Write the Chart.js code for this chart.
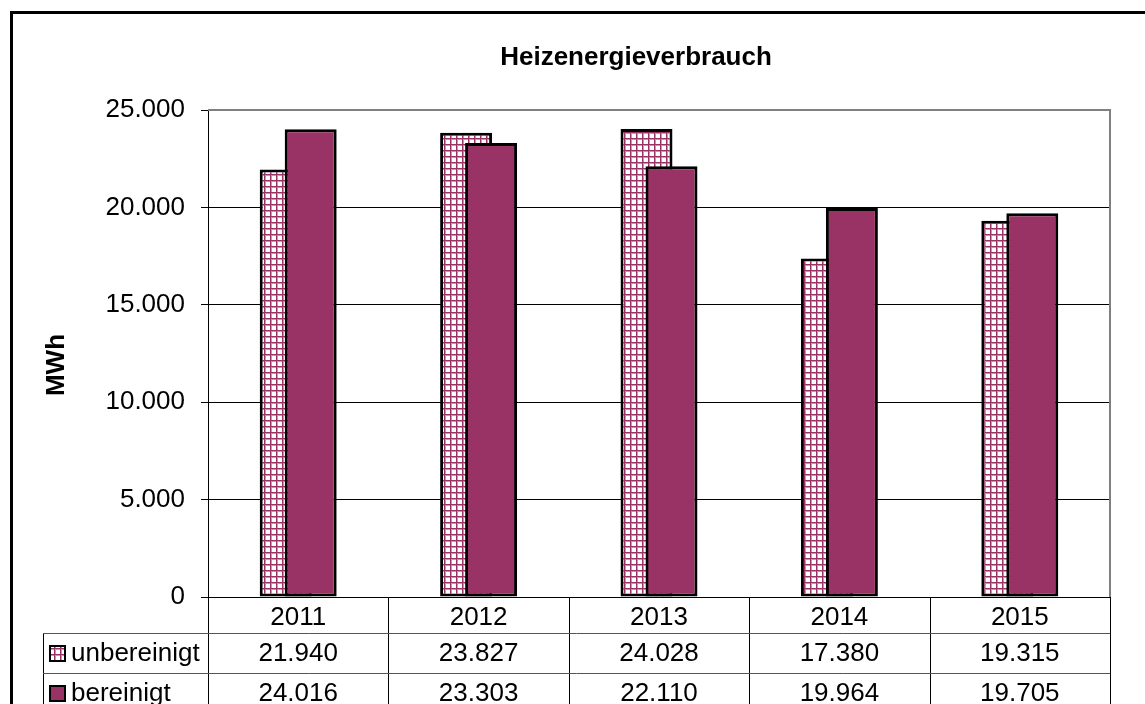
<!DOCTYPE html>
<html><head><meta charset="utf-8">
<script src="https://cdn.jsdelivr.net/npm/chart.js@4"></script>
<style>html,body{margin:0;padding:0;background:#fff;overflow:hidden}</style>
</head><body>
<canvas id="c" width="1145" height="704"></canvas>
<script>
const categories = ['2011', '2012', '2013', '2014', '2015'];
const seriesNames = ['unbereinigt', 'bereinigt'];
const unbereinigt = [21940, 23827, 24028, 17380, 19315];
const bereinigt = [24016, 23303, 22110, 19964, 19705];
const yTickLabels = ['0', '5.000', '10.000', '15.000', '20.000', '25.000'];
const chartTitle = 'Heizenergieverbrauch';
const yAxisTitle = 'MWh';

function fmt(v) { return String(v).replace(/\B(?=(\d{3})+(?!\d))/g, '.'); }

const FONT = "'Liberation Sans', Arial, Helvetica, sans-serif";
const MAROON = '#993366';
const canvas = document.getElementById('c');
const ctx = canvas.getContext('2d');

function makePattern() {
  const c = document.createElement('canvas');
  c.width = 6; c.height = 6;
  const g = c.getContext('2d');
  g.fillStyle = '#ffffff'; g.fillRect(0, 0, 6, 6);
  g.fillStyle = '#cf8fb0';
  g.fillRect(0, 1, 6, 1);
  g.fillRect(1, 0, 1, 6);
  g.fillStyle = '#993366';
  g.fillRect(0, 0, 6, 1);
  g.fillRect(0, 0, 1, 6);
  return ctx.createPattern(c, 'repeat');
}
const pattern = makePattern();
const seriesData = [unbereinigt, bereinigt];
const seriesFill = [pattern, MAROON];

const orderPlugin = {
  id: 'orderPlugin',
  beforeDatasetsDraw(chart) {
    const metas = chart.getSortedVisibleDatasetMetas();
    for (const m of metas) {
      if (typeof chart._drawDataset === 'function') chart._drawDataset(m);
      else m.controller.draw();
    }
    return false;
  }
};

const decorPlugin = {
  id: 'decor',
  beforeDraw(chart) {
    const c = chart.ctx;
    c.save(); c.fillStyle = '#fff'; c.fillRect(0, 0, chart.width, chart.height); c.restore();
  },
  afterDraw(chart) {
    const c = chart.ctx;
    const a = chart.chartArea;
    const xs = chart.scales.x;
    c.save();
    // plot border (top + right, gray)
    c.strokeStyle = '#808080'; c.lineWidth = 2;
    c.beginPath();
    c.moveTo(a.left, a.top); c.lineTo(a.right, a.top); c.lineTo(a.right, a.bottom);
    c.stroke();
    // title
    c.fillStyle = '#000';
    c.font = 'bold 26px ' + FONT;
    c.textAlign = 'center'; c.textBaseline = 'middle';
    c.fillText(chartTitle, 636, 58);
    // y axis title
    c.translate(57, 365); c.rotate(-Math.PI / 2);
    c.fillText(yAxisTitle, 0, 0);
    c.setTransform(1, 0, 0, 1, 0, 0);
    // data table
    const n = categories.length;
    const colW = (a.right - a.left) / n;
    const tableLeft = 43;
    const row1Top = a.bottom + 36;
    const rowH = 40;
    c.lineWidth = 1;
    c.strokeStyle = '#000';
    for (let k = 0; k <= n; k++) {
      const x = Math.round(a.left + k * colW) + 0.5;
      c.beginPath(); c.moveTo(x, a.bottom); c.lineTo(x, chart.height); c.stroke();
    }
    c.beginPath(); c.moveTo(tableLeft + 0.5, row1Top); c.lineTo(tableLeft + 0.5, chart.height); c.stroke();
    c.strokeStyle = '#555';
    for (let r = 0; r < 2; r++) {
      const y = Math.round(row1Top + r * rowH) + 0.5;
      c.beginPath(); c.moveTo(tableLeft, y); c.lineTo(a.right, y); c.stroke();
    }
    c.font = '26px ' + FONT;
    c.fillStyle = '#000';
    c.textBaseline = 'middle';
    for (let r = 0; r < 2; r++) {
      const yc = row1Top + r * rowH + rowH / 2 + 1;
      c.fillStyle = seriesFill[r];
      c.fillRect(50, yc - 8, 15, 15);
      c.strokeStyle = '#000'; c.lineWidth = 2;
      c.strokeRect(50, yc - 8, 15, 15);
      c.lineWidth = 1;
      c.fillStyle = '#000';
      c.textAlign = 'left';
      c.fillText(seriesNames[r], 71, yc);
      c.textAlign = 'center';
      for (let i = 0; i < n; i++) {
        c.fillText(fmt(seriesData[r][i]), xs.getPixelForValue(i), yc);
      }
    }
    // outer frame
    c.strokeStyle = '#000'; c.lineWidth = 3;
    c.strokeRect(11.5, 12.5, chart.width + 20, chart.height + 20);
    c.restore();
  }
};

new Chart(ctx, {
  type: 'bar',
  data: {
    labels: categories,
    datasets: [
      { label: seriesNames[0], data: unbereinigt, backgroundColor: pattern, borderColor: '#000', borderWidth: 3, borderSkipped: false },
      { label: seriesNames[1], data: bereinigt, backgroundColor: MAROON, borderColor: '#000', borderWidth: 3, borderSkipped: false }
    ]
  },
  options: {
    responsive: false,
    animation: false,
    devicePixelRatio: 1,
    categoryPercentage: 0.277,
    barPercentage: 2.08,
    layout: { padding: { top: 110, right: 35, bottom: 0, left: 0 } },
    plugins: {
      legend: { display: false },
      tooltip: { enabled: false },
      title: { display: false }
    },
    scales: {
      x: {
        grid: { display: true, drawOnChartArea: false, drawTicks: false },
        border: { display: true, color: '#000', width: 1 },
        ticks: { font: { family: FONT, size: 26 }, color: '#000', padding: 5, maxRotation: 0 },
        afterFit(s) { s.height = 107; }
      },
      y: {
        min: 0, max: 25000,
        ticks: {
          stepSize: 5000, color: '#000', padding: 16,
          font: { family: FONT, size: 26 },
          callback: (v) => yTickLabels[Math.round(v / 5000)]
        },
        grid: { color: '#000', lineWidth: 1, tickLength: 7, drawTicks: true },
        border: { display: true, color: '#000', width: 1 },
        afterFit(s) { s.width = 208; }
      }
    }
  },
  plugins: [orderPlugin, decorPlugin]
});
</script>
</body></html>
